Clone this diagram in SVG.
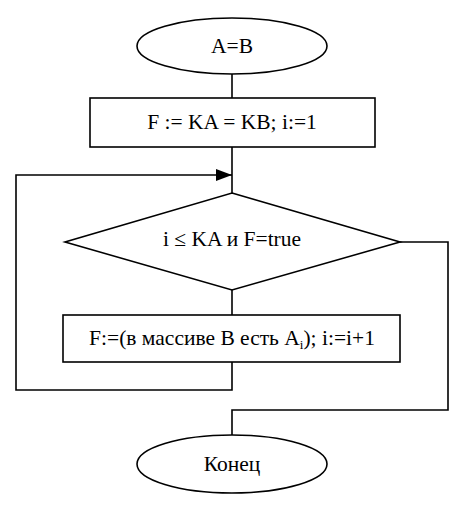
<svg xmlns="http://www.w3.org/2000/svg" width="471" height="505" viewBox="0 0 471 505">
<style>
.s{fill:#fff;stroke:#000;stroke-width:1.6}
.c{fill:none;stroke:#000;stroke-width:1.6}
.t{font-family:'Liberation Serif','DejaVu Serif',serif;font-size:21.5px;fill:#000;text-anchor:middle}
</style>
<defs>
<marker id="ah" markerWidth="16" markerHeight="12" refX="16" refY="6" orient="auto" markerUnits="userSpaceOnUse">
<path d="M0,0 L16,6 L0,12 Z" fill="#000"/>
</marker>
</defs>
<rect width="471" height="505" fill="#fff"/>
<g id="connectors">
<path class="c" d="M232,74 V98"/>
<path class="c" d="M232,147 V193"/>
<path class="c" d="M232,290 V315"/>
<path class="c" d="M232,362 V390 H16 V175 H232" marker-end="url(#ah)"/>
<path class="c" d="M400,242 H448 V410 H232 V436"/>
</g>
<g id="start">
<ellipse class="s" cx="232" cy="46" rx="95" ry="28"/>
<text class="t" x="232" y="53">A=B</text>
</g>
<g id="init">
<rect class="s" x="90" y="98" width="285" height="49"/>
<text class="t" x="232" y="129">F := KA = KB; i:=1</text>
</g>
<g id="cond">
<polygon class="s" points="232,193 400,242 232,290 65,242"/>
<text class="t" x="232" y="246">i ≤ KA и F=true</text>
</g>
<g id="body">
<rect class="s" x="63" y="315" width="337" height="47"/>
<text class="t" x="232" y="345">F:=(в массиве B есть A<tspan font-size="13" dy="4">i</tspan><tspan dy="-4">); i:=i+1</tspan></text>
</g>
<g id="end">
<ellipse class="s" cx="232" cy="464" rx="95" ry="29"/>
<text class="t" x="232" y="471">Конец</text>
</g>
</svg>
